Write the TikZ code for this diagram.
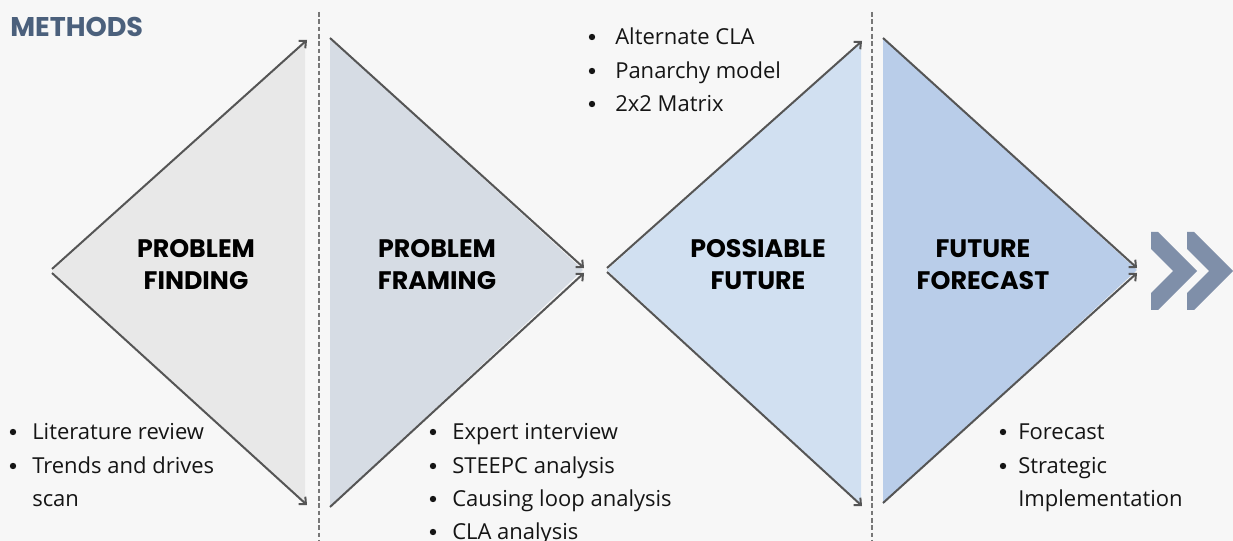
\documentclass[tikz,border=0pt]{standalone}
\usepackage{fontspec}
\setmainfont{Open Sans}
\newfontfamily\titlefont{Poppins}
\usetikzlibrary{arrows.meta,calc}
\definecolor{bg}{HTML}{F7F7F7}
\definecolor{fillA}{HTML}{E8E8E8}
\definecolor{fillB}{HTML}{D6DCE4}
\definecolor{fillC}{HTML}{D1E0F1}
\definecolor{fillD}{HTML}{B9CDE9}
\definecolor{linegray}{HTML}{555555}
\definecolor{dashgray}{HTML}{777777}
\definecolor{chev}{HTML}{7F8FA9}
\definecolor{headcol}{HTML}{4B607C}
\definecolor{txt}{HTML}{151515}
\begin{document}
\begin{tikzpicture}[x=0.75pt,y=-0.75pt,
  edge/.style={draw=linegray,line width=1.5pt,-{Straight Barb[length=4pt,width=7.5pt,line width=1.5pt]}},
  divider/.style={draw=dashgray,line width=1.1pt,dash pattern=on 3.5pt off 2pt},
  ttl/.style={anchor=base,inner sep=0pt,text=black,font=\titlefont\fontsize{19pt}{24pt}\selectfont\bfseries},
  item/.style={anchor=base west,inner sep=0pt,text=txt,font=\fontsize{16.5pt}{25pt}\selectfont},
  bul/.style={fill=txt}]
\useasboundingbox[fill=bg] (0,0) rectangle (1233,541);

% apex / corner coordinates
\coordinate (A1) at (52,269);
\coordinate (A1b) at (52,273);
\coordinate (A1t) at (307,40);
\coordinate (A1d) at (307,505);
\coordinate (B1t) at (330,38);
\coordinate (B1d) at (330,507);
\coordinate (B1) at (584,268);
\coordinate (B1b) at (584,273);
\coordinate (C1) at (607,268);
\coordinate (C1b) at (607,272);
\coordinate (C1t) at (862,41);
\coordinate (C1d) at (862,506);
\coordinate (D1t) at (883,38);
\coordinate (D1d) at (883,503);
\coordinate (D1) at (1137,268);
\coordinate (D1b) at (1137,273);

% fills
\fill[fillA] (52,271) -- (305,41) -- (305,504) -- cycle;
\fill[fillB] (330,38) -- (583,270) -- (330,507) -- cycle;
\fill[fillC] (607,270) -- (861,42) -- (861,505) -- cycle;
\fill[fillD] (883,38) -- (1137,270) -- (883,504) -- cycle;

% edges
\draw[edge] (A1) -- (A1t);
\draw[edge] (A1b) -- (A1d);
\draw[edge] (B1t) -- (B1);
\draw[edge] (B1d) -- (B1b);
\draw[edge] (C1) -- (C1t);
\draw[edge] (C1b) -- (C1d);
\draw[edge] (D1t) -- (D1);
\draw[edge] (D1d) -- (D1b);

% dividers
\coordinate (v1t) at (319,12);
\coordinate (v1b) at (319,545);
\coordinate (v2t) at (872,12);
\coordinate (v2b) at (872,545);
\draw[divider] (v1t) -- (v1b);
\draw[divider] (v2t) -- (v2b);

% chevrons
\foreach \dx in {0,36}{
  \fill[chev] (1151+\dx,232) -- (1158+\dx,232) -- (1197+\dx,271) -- (1158+\dx,310)
    -- (1151+\dx,310) -- (1151+\dx,293) -- (1173+\dx,271) -- (1151+\dx,249) -- cycle;
}

% heading
\node[anchor=base west,inner sep=0pt,text=headcol,font=\titlefont\fontsize{20.3pt}{24pt}\selectfont\bfseries] (methods) at (10,37) {METHODS};

% titles
\node[ttl] (t1a) at (196,258) {PROBLEM};
\node[ttl] (t1b) at (196,290) {FINDING};
\node[ttl] (t2a) at (437,258) {PROBLEM};
\node[ttl] (t2b) at (437,290) {FRAMING};
\node[ttl] (t3a) at (758,258) {POSSIABLE};
\node[ttl] (t3b) at (758,290) {FUTURE};
\node[ttl] (t4a) at (983,258) {FUTURE};
\node[ttl] (t4b) at (983,290) {FORECAST};

% bullet lists
\node[item] (l1) at (32,440) {Literature review};
\node[item] (l2) at (32,474) {Trends and drives};
\node[item] (l3) at (32,507) {scan};
\fill[bul] ($(l1.base west)+(-19,-8)$) circle[radius=2.4pt];
\fill[bul] ($(l2.base west)+(-19,-8)$) circle[radius=2.4pt];

\node[item] (f1) at (452,440) {Expert interview};
\node[item] (f2) at (452,474) {STEEPC analysis};
\node[item] (f3) at (452,507) {Causing loop analysis};
\node[item] (f4) at (452,540) {CLA analysis};
\foreach \n in {f1,f2,f3,f4}{\fill[bul] ($(\n.base west)+(-19,-8)$) circle[radius=2.4pt];}

\node[item] (p1) at (615,45) {Alternate CLA};
\node[item] (p2) at (615,79) {Panarchy model};
\node[item] (p3) at (615,112) {2x2 Matrix};
\foreach \n in {p1,p2,p3}{\fill[bul] ($(\n.base west)+(-23,-8)$) circle[radius=2.4pt];}

\node[item] (r1) at (1018,440) {Forecast};
\node[item] (r2) at (1018,474) {Strategic};
\node[item] (r3) at (1018,507) {Implementation};
\foreach \n in {r1,r2}{\fill[bul] ($(\n.base west)+(-15,-8)$) circle[radius=2.4pt];}
\end{tikzpicture}
\end{document}
